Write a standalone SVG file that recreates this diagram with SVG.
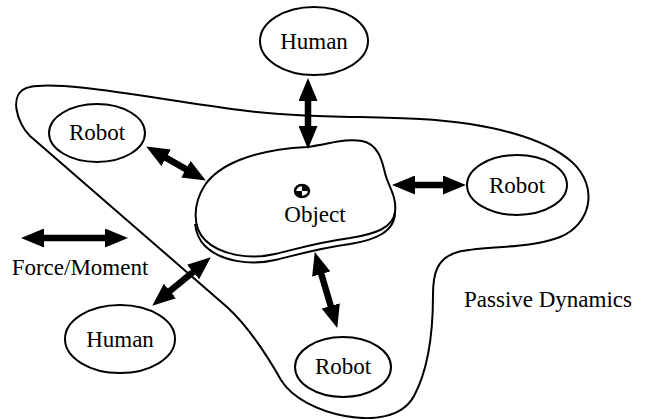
<svg xmlns="http://www.w3.org/2000/svg" width="648" height="419" viewBox="0 0 648 419">
<style>
.txt{font-family:"Liberation Serif","Times New Roman",serif;font-size:23px;fill:#000;text-anchor:middle}
.node{fill:#fff;stroke:#000;stroke-width:2}
.line{fill:none;stroke:#000;stroke-width:2}
.arr{stroke:#000;stroke-width:6.5;fill:none;marker-start:url(#head);marker-end:url(#head)}
</style>
<defs>
<marker id="head" viewBox="0 0 23 19" refX="8" refY="9.5" markerWidth="23" markerHeight="19" markerUnits="userSpaceOnUse" orient="auto-start-reverse">
<path d="M0,0 L23,9.5 L0,19 Z" fill="#000"/>
</marker>
</defs>
<rect width="648" height="419" fill="#fff"/>
<g id="passive-dynamics">
<path class="line" d="M227,307 L30,136 C18,125 6,92 30,87 C60,80 150,98 240,110 C300,118 360,116 420,119 C490,123 545,138 572,162 C600,188 590,225 560,237 C530,249 480,246 458,252 C436,258 433,275 433,295 C433,335 428,370 414,396 C402,418 372,421 345,416 C318,411 292,398 281,380 C268,357 250,328 227,307 Z"/>
<text class="txt" x="548" y="307">Passive Dynamics</text>
</g>
<g id="object">
<path class="node" d="M307,147 C330,144 345,138 362,141 C378,144 382,160 385,173 C388,186 397,196 395,212 C393,228 375,234 350,238 C320,242 300,248 275,254 C250,260 220,255 205,240 C193,228 192,205 205,185 C218,166 250,150 307,147 Z"/>
<path class="line" d="M395,212 C395,232 375,240 350,244 C320,248 300,254 275,260 C250,266 220,261 205,246 C199,240 196,232 195,224"/>
<ellipse cx="302" cy="191" rx="7" ry="6" fill="#fff" stroke="#000" stroke-width="2.5"/>
<path d="M302,191 L302,185 A7,6 0 0 1 309,191 Z M302,191 L302,197 A7,6 0 0 1 295,191 Z" fill="#000"/>
<text class="txt" x="315" y="222">Object</text>
</g>
<g id="human-top">
<ellipse class="node" cx="314" cy="41" rx="54" ry="34"/>
<text class="txt" x="314" y="49">Human</text>
</g>
<g id="robot-left">
<ellipse class="node" cx="97" cy="133" rx="48" ry="29"/>
<text class="txt" x="97" y="140">Robot</text>
</g>
<g id="robot-right">
<ellipse class="node" cx="517" cy="185" rx="50" ry="30"/>
<text class="txt" x="517" y="193">Robot</text>
</g>
<g id="human-bottom">
<ellipse class="node" cx="120" cy="339" rx="55" ry="34"/>
<text class="txt" x="120" y="347">Human</text>
</g>
<g id="robot-bottom">
<ellipse class="node" cx="343" cy="367" rx="48" ry="30"/>
<text class="txt" x="343" y="374">Robot</text>
</g>
<g id="legend">
<text class="txt" x="80" y="275">Force/Moment</text>
</g>
<g id="connectors">
<line class="arr" x1="308" y1="93" x2="308" y2="134"/>
<line class="arr" x1="159.2" y1="153.9" x2="192.8" y2="173.1"/>
<line class="arr" x1="407" y1="185" x2="451" y2="185"/>
<line class="arr" x1="163.8" y1="296.1" x2="199.2" y2="266.9"/>
<line class="arr" x1="319" y1="266.4" x2="333" y2="313.6"/>
<line class="arr" x1="36" y1="238" x2="113" y2="238"/>
</g>
</svg>
